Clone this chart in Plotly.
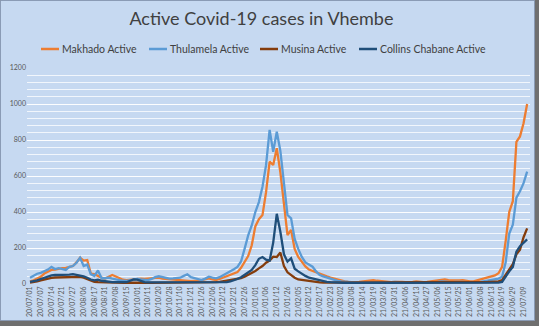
import plotly.graph_objects as go

# Tick labels (dates) - one label every 3 data points
tick_labels = [
    "20/07/01", "20/07/07", "20/07/14", "20/07/21", "20/07/27", "20/08/06", "20/08/17",
    "20/08/31", "20/09/08", "20/09/15", "20/10/01", "20/10/11", "20/10/20", "20/10/28",
    "20/11/10", "20/11/21", "20/11/26", "20/12/06", "20/12/12", "20/12/21", "20/12/26",
    "21/01/01", "21/01/06", "21/01/12", "21/01/26", "21/02/05", "21/02/12", "21/02/17",
    "21/02/23", "21/03/02", "21/03/08", "21/03/14", "21/03/19", "21/03/26", "21/03/31",
    "21/04/06", "21/04/13", "21/04/27", "21/05/06", "21/05/15", "21/05/25", "21/06/01",
    "21/06/08", "21/06/13", "21/06/19", "21/06/29", "21/07/09",
]
POINTS_PER_LABEL = 3

makhado = [
    15, 20, 30, 40, 58, 70, 78, 80, 85, 88,
    90, 95, 100, 120, 146, 130, 133, 58, 55, 45,
    35, 30, 40, 50, 42, 32, 24, 22, 25, 28,
    30, 30, 28, 30, 32, 35, 35, 30, 28, 26,
    24, 20, 18, 17, 17, 16, 17, 17, 22, 28,
    31, 25, 22, 28, 35, 41, 50, 55, 66, 90,
    125, 155, 215, 320, 360, 383, 510, 680, 661, 754,
    620, 450, 272, 300, 195, 150, 125, 98, 80, 72,
    63, 58, 50, 42, 36, 30, 24, 19, 14, 12,
    10, 10, 12, 15, 18, 20, 22, 18, 15, 12,
    10, 10, 12, 14, 12, 10, 10, 12, 15, 12,
    10, 12, 15, 18, 20, 22, 25, 22, 20, 18,
    20, 22, 18, 15, 15, 20, 25, 30, 35, 40,
    48, 60, 95, 240, 400, 460, 790, 820, 893, 1000,
]

thulamela = [
    35, 45, 57, 62, 70, 80, 95, 83, 88, 85,
    78, 95, 100, 118, 145, 100, 108, 55, 45, 75,
    33, 32, 35, 30, 25, 20, 18, 17, 20, 24,
    28, 25, 24, 22, 28, 38, 43, 38, 32, 30,
    31, 33, 35, 45, 54, 38, 32, 24, 22, 30,
    41, 35, 31, 38, 48, 60, 70, 82, 95, 125,
    195, 270, 325, 400, 455, 540, 660, 856, 735, 846,
    740, 545, 383, 365, 250, 195, 150, 120, 106, 96,
    70, 50, 42, 35, 30, 25, 18, 14, 12, 10,
    9, 8, 8, 9, 10, 10, 12, 10, 9, 8,
    8, 10, 12, 10, 9, 8, 8, 8, 10, 12,
    10, 8, 8, 10, 12, 14, 12, 10, 10, 12,
    14, 12, 10, 9, 8, 10, 12, 15, 20, 24,
    27, 30, 40, 120, 280, 330, 480, 515, 560, 624,
]

musina = [
    8, 10, 14, 20, 26, 30, 34, 36, 37, 38,
    40, 41, 42, 43, 40, 35, 28, 18, 12, 10,
    9, 8, 7, 7, 6, 6, 6, 6, 7, 8,
    8, 7, 6, 6, 6, 6, 6, 6, 6, 6,
    6, 6, 6, 6, 6, 6, 6, 6, 6, 7,
    7, 8, 10, 12, 15, 18, 20, 22, 26, 32,
    40, 50, 60, 72, 87, 100, 118, 130, 152, 150,
    175, 100, 65, 48, 35, 25, 22, 18, 15, 12,
    10, 9, 8, 8, 8, 7, 7, 7, 7, 7,
    7, 8, 8, 9, 10, 9, 8, 8, 8, 8,
    9, 10, 9, 8, 8, 8, 8, 9, 10, 9,
    8, 8, 8, 9, 10, 10, 9, 8, 8, 8,
    9, 10, 10, 9, 8, 9, 10, 10, 11, 12,
    13, 15, 22, 50, 80, 110, 165, 190, 260, 309,
]

collins = [
    12, 15, 20, 28, 35, 42, 48, 50, 50, 52,
    50, 52, 55, 52, 48, 42, 35, 25, 20, 24,
    18, 14, 12, 10, 10, 9, 9, 10, 18, 26,
    24, 15, 10, 9, 9, 8, 8, 8, 8, 8,
    8, 8, 8, 8, 8, 8, 8, 8, 8, 8,
    8, 8, 8, 8, 9, 10, 14, 20, 28, 38,
    50, 62, 78, 105, 140, 150, 135, 130, 230, 390,
    290, 165, 124, 143, 85, 70, 55, 45, 35, 30,
    25, 20, 15, 12, 10, 8, 7, 7, 6, 6,
    6, 6, 6, 6, 6, 6, 6, 6, 6, 6,
    6, 6, 6, 6, 6, 6, 6, 6, 6, 6,
    6, 6, 6, 6, 6, 6, 6, 6, 6, 6,
    6, 6, 6, 6, 6, 6, 7, 7, 7, 7,
    8, 8, 12, 45, 70, 95, 180, 210, 232, 248,
]

series_names = ["Makhado Active", "Thulamela Active", "Musina Active", "Collins Chabane Active"]
series_values = [makhado, thulamela, musina, collins]
series_colors = ["#ED7D31", "#5B9BD5", "#843C0C", "#1F4E79"]

x = list(range(len(makhado)))
tickvals = [i * POINTS_PER_LABEL for i in range(len(tick_labels))]

fig = go.Figure()
for name, vals, color in zip(series_names, series_values, series_colors):
    fig.add_trace(go.Scatter(
        x=x, y=vals, mode="lines", name=name,
        line=dict(color=color, width=2.3), showlegend=False,
    ))

W, H = 539, 326
ML, MR, MT, MB = 27, 9, 68, 42
pw, ph = W - ML - MR, H - MT - MB
BG = "#C6D9F1"
GRID = "rgba(255,255,255,0.75)"
TXT = "#595959"


def px2paper_x(px):
    return (px - ML) / pw


def px2paper_y(py):
    return (H - MB - py) / ph


# chart frame
fig.add_shape(type="rect", xref="paper", yref="paper", layer="below",
              x0=px2paper_x(0.5), x1=px2paper_x(534.5),
              y0=px2paper_y(320.5), y1=px2paper_y(0.5),
              fillcolor=BG, line=dict(color="#8A9BB5", width=1))

# legend row (Excel style: short line sample directly followed by text)
legend_line_px = [(41, 59), (149, 167), (260, 278), (359, 377)]
LEG_Y = 49
for (x0p, x1p), name, color in zip(legend_line_px, series_names, series_colors):
    fig.add_shape(type="line", xref="paper", yref="paper",
                  x0=px2paper_x(x0p), x1=px2paper_x(x1p),
                  y0=px2paper_y(LEG_Y), y1=px2paper_y(LEG_Y),
                  line=dict(color=color, width=2.5))
    fig.add_annotation(text=name, xref="paper", yref="paper",
                       x=px2paper_x(x1p + 0.5), y=px2paper_y(LEG_Y),
                       xanchor="left", yanchor="middle", showarrow=False,
                       font=dict(size=10.5, color="#404040", family="Lato, sans-serif"))

fig.update_layout(
    width=W, height=H,
    margin=dict(l=ML, r=MR, t=MT, b=MB, pad=0),
    paper_bgcolor="#6F6F6F",
    plot_bgcolor="rgba(0,0,0,0)",
    font=dict(family="Lato, Open Sans, sans-serif", color=TXT),
    title=dict(text="Active Covid-19 cases in Vhembe", x=0.485, xref="container",
               y=1 - 19 / H, yref="container", xanchor="center", yanchor="middle",
               font=dict(size=18, color="#404040", family="Lato, sans-serif")),
    showlegend=False,
)

fig.update_xaxes(
    range=[-0.84, 139.8], tickmode="array", tickvals=tickvals, ticktext=tick_labels,
    tickangle=-90, tickfont=dict(size=7, color=TXT), showgrid=False,
    zeroline=False, showline=False, ticks="", fixedrange=True,
)
fig.update_yaxes(
    range=[0, 1200], tickmode="array", tickvals=list(range(0, 1201, 200)),
    tickfont=dict(size=7, color=TXT), showgrid=True, gridcolor=GRID, gridwidth=1,
    minor=dict(dtick=40, showgrid=True, gridcolor=GRID, gridwidth=1),
    zeroline=False, showline=False, ticks="", fixedrange=True,
)

fig.write_html("out.html")
